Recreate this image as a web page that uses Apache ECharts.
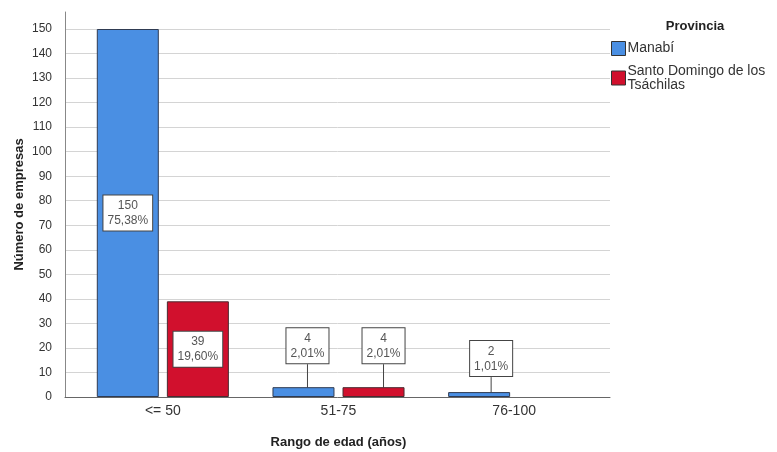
<!DOCTYPE html>
<html><head><meta charset="utf-8">
<script src="https://cdn.jsdelivr.net/npm/echarts@6/dist/echarts.min.js"></script>
<style>html,body{margin:0;padding:0;background:#fff}#c{width:777px;height:452px}</style>
</head><body><div id="c"></div>
<script>
const categories = ['<= 50', '51-75', '76-100'];
const seriesNames = ['Manabí', 'Santo Domingo de los Tsáchilas'];
const manabi = [150, 4, 2];
const santoDomingo = [39, 4, null];
const manabiPct = ['75,38%', '2,01%', '1,01%'];
const santoPct = ['19,60%', '2,01%', null];
const yTickMax = 150;
const yTickStep = 10;
const axisLineTop = 157;

const FONT = "'Liberation Sans', Arial, sans-serif";
// label shifts (pixels) for small bars whose labels sit above the bar
const outsideLabelShift = [
  [null, {dx: 4, dy: -21}, {dx: 12, dy: -13}],
  [null, {dx: 10, dy: -21}, null]
];

const boxLabel = {
  show: true,
  backgroundColor: '#fff',
  borderColor: '#444',
  borderWidth: 1,
  padding: [3, 4, 2, 4],
  fontSize: 12,
  lineHeight: 15,
  color: '#555',
  fontFamily: FONT
};

function buildData(values, pcts, shifts) {
  return values.map((v, i) => {
    if (v === null) return null;
    const item = {value: v};
    const fmt = () => v + '\n' + pcts[i];
    if (shifts[i]) {
      item.label = Object.assign({}, boxLabel, {position: 'top', distance: 3, formatter: fmt});
      item.labelLine = {show: true, lineStyle: {color: '#444', width: 1}};
    } else {
      item.label = Object.assign({}, boxLabel, {position: 'inside', formatter: fmt});
      item.labelLine = {show: false};
    }
    return item;
  });
}

function layoutFor(seriesIdx) {
  return function (params) {
    const s = outsideLabelShift[seriesIdx][params.dataIndex];
    return s ? {dx: s.dx, dy: s.dy} : {};
  };
}

const chart = echarts.init(document.getElementById('c'));
chart.setOption({
  animation: false,
  backgroundColor: '#fff',
  textStyle: {fontFamily: FONT},
  title: {
    text: 'Provincia', left: 690, top: 15, textAlign: 'center',
    textStyle: {fontSize: 13, fontWeight: 'bold', color: '#222', fontFamily: FONT}
  },
  legend: {
    orient: 'vertical', left: 611, top: 41, padding: 0, itemWidth: 14, itemHeight: 14, itemGap: 8,
    selectedMode: false, icon: 'rect',
    data: seriesNames,
    itemStyle: {borderColor: '#333', borderWidth: 1},
    formatter: name => name.replace(' de los ', ' de los\n'),
    textStyle: {fontSize: 14, lineHeight: 14, color: '#333', fontFamily: FONT, padding: [0, 0, 0, -3]}
  },
  grid: [
    {left: 65, right: 167, top: 12, bottom: 55, outerBoundsMode: 'none'},
    {left: 65, right: 167, top: 29, bottom: 55, outerBoundsMode: 'none'},
    {left: 75, right: 175, top: 29, bottom: 55, outerBoundsMode: 'none'}
  ],
  xAxis: [
    {gridIndex: 0, type: 'value', min: 0, max: 1, axisLine: {show: true, lineStyle: {color: '#666'}},
     axisTick: {show: false}, axisLabel: {show: false}, splitLine: {show: false}},
    {gridIndex: 1, type: 'value', min: 0, max: 1, show: false},
    {gridIndex: 2, type: 'category', data: categories,
     axisLine: {show: false}, axisTick: {show: false},
     axisLabel: {fontSize: 14, color: '#333', margin: 7, fontFamily: FONT},
     name: 'Rango de edad (años)', nameLocation: 'middle', nameGap: 39,
     nameTextStyle: {fontSize: 13, fontWeight: 'bold', color: '#222', fontFamily: FONT}},
  ],
  yAxis: [
    {gridIndex: 0, type: 'value', min: 0, max: axisLineTop,
     axisLine: {show: true, lineStyle: {color: '#888'}}, axisTick: {show: false},
     axisLabel: {show: false}, splitLine: {show: false},
     name: 'Número de empresas', nameLocation: 'middle', nameGap: 39,
     nameTextStyle: {fontSize: 13, fontWeight: 'bold', color: '#222', fontFamily: FONT}},
    {gridIndex: 1, type: 'value', min: 0, max: yTickMax, interval: yTickStep,
     axisLine: {show: false}, axisTick: {show: false},
     axisLabel: {fontSize: 12, color: '#333', margin: 13, fontFamily: FONT},
     splitLine: {show: true, lineStyle: {color: '#d4d4d4', width: 1}}},
    {gridIndex: 2, type: 'value', min: 0, max: yTickMax, show: false}
  ],
  series: [
    {name: seriesNames[0], type: 'bar', xAxisIndex: 2, yAxisIndex: 2,
     barWidth: 62, barGap: '13%',
     labelLine: {show: true, lineStyle: {color: '#444', width: 1}},
     labelLayout: layoutFor(0),
     itemStyle: {color: '#4a8fe3', borderColor: '#2f3b52', borderWidth: 1},
     data: buildData(manabi, manabiPct, outsideLabelShift[0])},
    {name: seriesNames[1], type: 'bar', xAxisIndex: 2, yAxisIndex: 2,
     barWidth: 62, barGap: '13%',
     labelLine: {show: true, lineStyle: {color: '#444', width: 1}},
     labelLayout: layoutFor(1),
     itemStyle: {color: '#d1102d', borderColor: '#4a2a30', borderWidth: 1},
     data: buildData(santoDomingo, santoPct, outsideLabelShift[1])}
  ]
});
</script></body></html>
